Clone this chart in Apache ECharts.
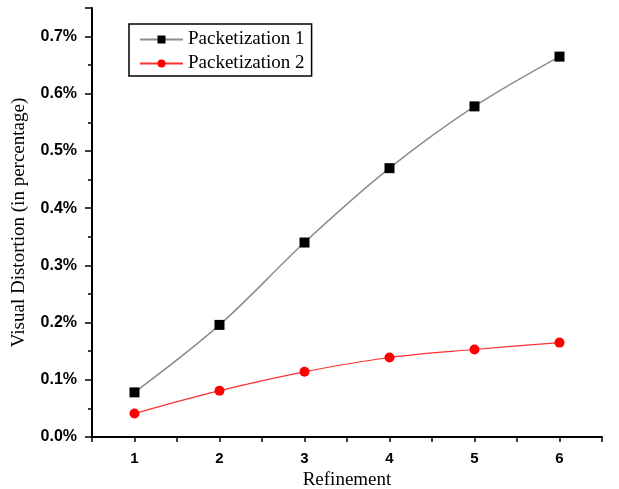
<!DOCTYPE html>
<html>
<head>
<meta charset="utf-8">
<script src="https://cdn.jsdelivr.net/npm/echarts@6/dist/echarts.min.js"></script>
<style>
  html, body { margin: 0; padding: 0; background: #fff; }
  #chart { width: 619px; height: 489px; }
</style>
</head>
<body>
<div id="chart"></div>
<script>
// Refinement levels and distortion (percent) per packetization scheme
const refinement = [1, 2, 3, 4, 5, 6];
const packetization1 = [0.078, 0.196, 0.340, 0.470, 0.578, 0.665];
const packetization2 = [0.041, 0.081, 0.114, 0.139, 0.153, 0.165];
const seriesNames = ['Packetization 1', 'Packetization 2'];

const pairs = (xs, ys) => xs.map((x, i) => [x, ys[i]]);

const chart = echarts.init(document.getElementById('chart'));
const serif = '"Liberation Serif", "Times New Roman", serif';
const sans = '"Liberation Sans", Arial, sans-serif';

chart.setOption({
  animation: false,
  backgroundColor: '#fff',
  grid: { left: 92, top: 8, right: 17, bottom: 52, containLabel: false, outerBoundsMode: 'none' },
  legend: {
    orient: 'vertical',
    left: 129,
    top: 24,
    padding: [6, 7, 3, 10],
    itemGap: 5,
    itemWidth: 43,
    itemHeight: 10,
    borderColor: '#000',
    borderWidth: 1.5,
    textStyle: { fontFamily: serif, fontSize: 19, color: '#000' },
    data: seriesNames
  },
  xAxis: {
    type: 'value',
    min: 0.5,
    max: 6.5,
    interval: 0.5,
    name: 'Refinement',
    nameLocation: 'middle',
    nameGap: 34,
    nameTextStyle: { fontFamily: serif, fontSize: 19, color: '#000' },
    axisLine: { lineStyle: { color: '#000', width: 2 } },
    axisTick: { length: 5, lineStyle: { color: '#000', width: 1.5 } },
    axisLabel: {
      margin: 14,
      fontFamily: sans, fontWeight: 'bold', fontSize: 15, color: '#000',
      formatter: v => (Math.abs(v - Math.round(v)) < 1e-6 && v >= 1 && v <= 6) ? String(Math.round(v)) : ''
    },
    splitLine: { show: false }
  },
  yAxis: {
    type: 'value',
    min: 0,
    max: 0.75,
    interval: 0.1,
    name: 'Visual Distortion (in percentage)',
    nameLocation: 'middle',
    nameGap: 63,
    nameTextStyle: { fontFamily: serif, fontSize: 19, color: '#000' },
    axisLine: { show: true, lineStyle: { color: '#000', width: 2 } },
    axisTick: { length: 7, lineStyle: { color: '#000', width: 1.5 } },
    minorTick: { show: true, splitNumber: 2, length: 4, lineStyle: { color: '#000', width: 1.5 } },
    axisLabel: {
      margin: 15,
      showMaxLabel: false,
      fontFamily: sans, fontWeight: 'bold', fontSize: 16, color: '#000',
      formatter: v => v > 0.71 ? '' : v.toFixed(1) + '%'
    },
    splitLine: { show: false }
  },
  series: [
    {
      name: seriesNames[0],
      type: 'line',
      smooth: 0.35,
      data: pairs(refinement, packetization1),
      symbol: 'rect',
      symbolSize: 10,
      itemStyle: { color: '#000' },
      lineStyle: { color: '#8c8c8c', width: 1.5 }
    },
    {
      name: seriesNames[1],
      type: 'line',
      smooth: 0.35,
      data: pairs(refinement, packetization2),
      symbol: 'circle',
      symbolSize: 10,
      itemStyle: { color: '#ff0000' },
      lineStyle: { color: '#ff3030', width: 1.2 }
    }
  ]
});
</script>
</body>
</html>
